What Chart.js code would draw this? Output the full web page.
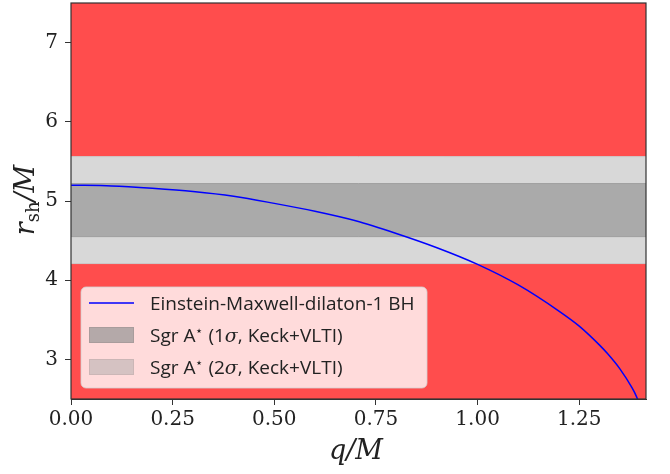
<!doctype html>
<html lang="en">
<head>
<meta charset="utf-8">
<title>Shadow radius — Einstein-Maxwell-dilaton-1 BH vs Sgr A*</title>
<script src="https://cdn.jsdelivr.net/npm/chart.js@4.4.1/dist/chart.umd.min.js"></script>
<style>
  html,body{margin:0;padding:0;background:#fff}
  #wrap{width:670px;height:474px}
</style>
</head>
<body>
<div id="wrap"><canvas id="c" width="670" height="474"></canvas></div>
<script>
// q/M and shadow radius r_sh/M
const qValues = [0, 0.1, 0.2, 0.3, 0.4, 0.5, 0.6, 0.7, 0.8, 0.9, 1.0, 1.1, 1.2, 1.25, 1.3, 1.32, 1.35, 1.38, 1.39, 1.40];
const rShadow = [5.20, 5.19, 5.16, 5.12, 5.06, 4.97, 4.87, 4.75, 4.59, 4.41, 4.20, 3.94, 3.61, 3.42, 3.18, 3.07, 2.88, 2.64, 2.54, 2.41];

// Sgr A* bounds (Keck+VLTI)
const band1s = [4.55, 5.22];
const band2s = [4.21, 5.56];

const xRange = [0, 1.4142];
const yRange = [2.5, 7.5];
const xTicks = [0, 0.25, 0.5, 0.75, 1.0, 1.25];
const yTicks = [3, 4, 5, 6, 7];

const legendLabels = ["Einstein-Maxwell-dilaton-1 BH", "Sgr A\u22c6 (1\u03c3, Keck+VLTI)", "Sgr A\u22c6 (2\u03c3, Keck+VLTI)"];

const RED = "#ff4d4d", LIGHT = "#d8d8d8", DARK = "#aaaaaa";
const flat = (y) => xRange.map(x => ({ x, y }));

const datasets = [
  { data: qValues.map((q, i) => ({ x: q, y: rShadow[i] })), borderColor: "#0000ff", borderWidth: 1.5,
    pointRadius: 0, cubicInterpolationMode: "monotone", fill: false, order: 0 },
  // 1 sigma band
  { data: flat(band1s[0]), borderColor: "#9f9f9f", borderWidth: 1, pointRadius: 0, fill: false, order: 1 },
  { data: flat(band1s[1]), borderColor: "#9f9f9f", borderWidth: 1, pointRadius: 0, fill: "-1", backgroundColor: DARK, order: 1 },
  // 2 sigma band
  { data: flat(band2s[0]), borderColor: "#cbcbcb", borderWidth: 1, pointRadius: 0, fill: false, order: 2 },
  { data: flat(band2s[1]), borderColor: "#cbcbcb", borderWidth: 1, pointRadius: 0, fill: "-1", backgroundColor: LIGHT, order: 2 },
  // excluded regions
  { data: flat(yRange[1]), borderWidth: 0, pointRadius: 0, fill: { value: band2s[1] }, backgroundColor: RED, order: 3 },
  { data: flat(band2s[0]), borderColor: "#f04444", borderWidth: 1, pointRadius: 0, fill: { value: yRange[0] }, backgroundColor: RED, order: 3 },
];

const serif = "'DejaVu Serif', serif";
const sans = "'Open Sans', 'DejaVu Sans', sans-serif";

const overlay = {
  id: "overlay",
  afterDatasetsDraw(chart) {
    const { ctx, chartArea: a } = chart;
    ctx.save();
    // axes frame
    ctx.strokeStyle = "#333";
    ctx.lineWidth = 1.2;
    ctx.strokeRect(a.left, a.top, a.right - a.left, a.bottom - a.top);

    // legend box
    const bx = 81, by = 287, bw = 346, bh = 101;
    ctx.beginPath();
    ctx.roundRect(bx, by, bw, bh, 5);
    ctx.fillStyle = "rgba(255,255,255,0.8)";
    ctx.fill();
    ctx.strokeStyle = "rgba(210,210,210,0.8)";
    ctx.lineWidth = 1;
    ctx.stroke();

    const rows = [303, 335, 367];
    // handles
    ctx.strokeStyle = "#0000ff"; ctx.lineWidth = 1.5;
    ctx.beginPath(); ctx.moveTo(89, rows[0]); ctx.lineTo(134, rows[0]); ctx.stroke();
    const patch = (y, fill, edge) => {
      ctx.fillStyle = fill; ctx.fillRect(89, y - 8, 45, 16);
      ctx.strokeStyle = edge; ctx.lineWidth = 1; ctx.strokeRect(89.5, y - 7.5, 44, 15);
    };
    patch(rows[1], "#b4a9a9", "#a89c9c");
    patch(rows[2], "#d5c2c2", "#cbb6b6");

    // legend texts
    ctx.fillStyle = "#222";
    ctx.textBaseline = "alphabetic";
    ctx.textAlign = "left";
    ctx.font = "19px " + sans;
    ctx.fillText(legendLabels[0], 150, rows[0] + 7);
    for (let k = 1; k < 3; k++) {
      const parts = legendLabels[k].split(/(\u22c6|\u03c3)/);
      let x = 150; const base = rows[k] + 7;
      for (const p of parts) {
        if (p === "\u22c6") { ctx.font = "13px " + serif; ctx.fillText("\u22c6", x, base - 7); x += ctx.measureText("\u22c6").width; }
        else if (p === "\u03c3") { ctx.font = "italic 19px " + serif; ctx.fillText(p, x, base); x += ctx.measureText(p).width; }
        else { ctx.font = "19px " + sans; ctx.fillText(p, x, base); x += ctx.measureText(p).width; }
      }
    }
    ctx.restore();
  },
  afterDraw(chart) {
    const { ctx } = chart;
    ctx.save();
    ctx.fillStyle = "#222";
    ctx.textBaseline = "alphabetic";
    // x title q/M
    ctx.font = "italic 27px " + serif;
    ctx.textAlign = "center";
    ctx.fillText("q/M", 356, 459);
    // y title r_sh/M
    ctx.translate(34, 200);
    ctx.rotate(-Math.PI / 2);
    ctx.textAlign = "left";
    const r = "r", sh = "sh", m = "/M";
    ctx.font = "italic 27px " + serif; const wr = ctx.measureText(r).width;
    ctx.font = "18px " + serif; const wsh = ctx.measureText(sh).width;
    ctx.font = "italic 27px " + serif; const wm = ctx.measureText(m).width;
    let x = -(wr + wsh + wm) / 2;
    ctx.font = "italic 27px " + serif; ctx.fillText(r, x, 0); x += wr;
    ctx.font = "18px " + serif; ctx.fillText(sh, x, 5); x += wsh;
    ctx.font = "italic 27px " + serif; ctx.fillText(m, x, 0);
    ctx.restore();
  }
};

const axisGrid = { drawOnChartArea: false, drawTicks: true, tickLength: 6, color: "#333", lineWidth: 1 };
const noPad = (s) => { s.paddingTop = 0; s.paddingBottom = 0; s.paddingLeft = 0; s.paddingRight = 0; };

new Chart(document.getElementById("c"), {
  type: "line",
  data: { datasets },
  options: {
    responsive: false,
    animation: false,
    devicePixelRatio: 1,
    layout: { padding: { top: 3, right: 24, left: 0, bottom: 0 } },
    plugins: { legend: { display: false }, tooltip: { enabled: false } },
    scales: {
      x: {
        type: "linear", min: xRange[0], max: xRange[1],
        afterBuildTicks: (s) => { s.ticks = xTicks.map(v => ({ value: v })); },
        afterFit: (s) => { s.height = 75; noPad(s); },
        ticks: { callback: (v) => Number(v).toFixed(2), font: { family: serif, size: 20 }, color: "#222", padding: 3, maxRotation: 0 },
        grid: axisGrid, border: { display: true, color: "#333" }
      },
      y: {
        type: "linear", min: yRange[0], max: yRange[1],
        afterBuildTicks: (s) => { s.ticks = yTicks.map(v => ({ value: v })); },
        afterFit: (s) => { s.width = 71; noPad(s); },
        ticks: { callback: (v) => String(v), font: { family: serif, size: 20 }, color: "#222", padding: 7 },
        grid: axisGrid, border: { display: true, color: "#333" }
      }
    }
  },
  plugins: [overlay]
});
</script>
</body>
</html>
